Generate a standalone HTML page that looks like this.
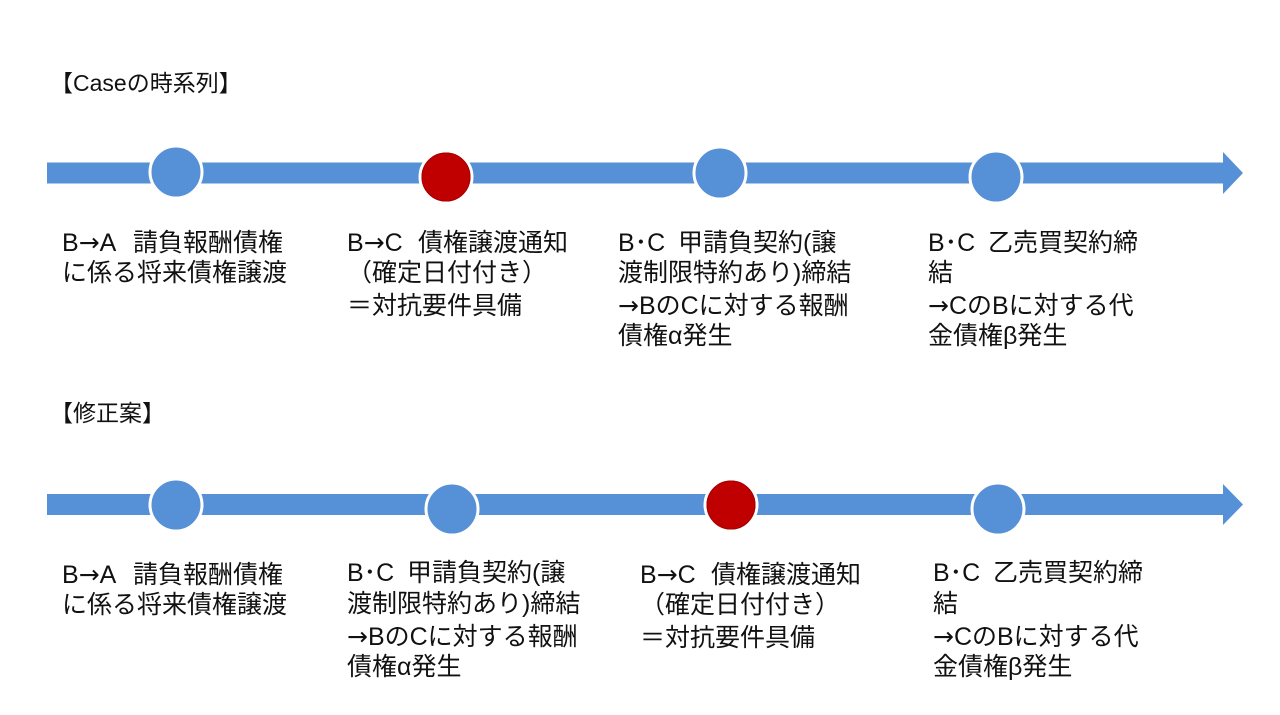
<!DOCTYPE html>
<html>
<head>
<meta charset="utf-8">
<style>
html,body{margin:0;padding:0;background:#fff;}
body{width:1280px;height:715px;overflow:hidden;}
svg{display:block;}
text{font-family:"Liberation Sans","Noto Sans CJK JP",sans-serif;fill:#111;}
.t{font-size:25px;}
.h{font-size:23px;}
.a{font-family:"DejaVu Sans",sans-serif;}
</style>
</head>
<body>
<svg width="1280" height="715" viewBox="0 0 1280 715" xmlns="http://www.w3.org/2000/svg">
  <rect width="1280" height="715" fill="#fff"/>

  <!-- Titles -->
  <text class="h" x="50" y="91">【Caseの時系列】</text>
  <text class="h" x="50" y="421">【修正案】</text>

  <!-- Top timeline -->
  <rect x="47" y="162.5" width="1177" height="21" fill="#5690D6"/>
  <polygon points="1223,152 1243,173 1223,194" fill="#5690D6"/>
  <circle cx="176" cy="172" r="26" fill="#5690D6" stroke="#fff" stroke-width="3"/>
  <circle cx="446" cy="177" r="26" fill="#C00000" stroke="#fff" stroke-width="3"/>
  <circle cx="446" cy="177" r="24" fill="none" stroke="#A40000" stroke-width="1"/>
  <circle cx="720" cy="173" r="26" fill="#5690D6" stroke="#fff" stroke-width="3"/>
  <circle cx="996" cy="177" r="26" fill="#5690D6" stroke="#fff" stroke-width="3"/>

  <!-- Bottom timeline -->
  <rect x="47" y="494" width="1177" height="21" fill="#5690D6"/>
  <polygon points="1223,484 1243,504.5 1223,525" fill="#5690D6"/>
  <circle cx="176" cy="505" r="26" fill="#5690D6" stroke="#fff" stroke-width="3"/>
  <circle cx="452" cy="509" r="26" fill="#5690D6" stroke="#fff" stroke-width="3"/>
  <circle cx="731" cy="505" r="26" fill="#C00000" stroke="#fff" stroke-width="3"/>
  <circle cx="731" cy="505" r="24" fill="none" stroke="#A40000" stroke-width="1"/>
  <circle cx="998" cy="509" r="26" fill="#5690D6" stroke="#fff" stroke-width="3"/>

  <!-- Top labels -->
  <text class="t" x="62" y="251">B<tspan class="a">→</tspan>A<tspan x="133">請負報酬債権</tspan></text>
  <text class="t" x="62" y="281">に係る将来債権譲渡</text>

  <text class="t" x="347" y="251">B<tspan class="a">→</tspan>C<tspan x="418">債権譲渡通知</tspan></text>
  <text class="t" x="347" y="281">（確定日付付き）</text>
  <text class="t" x="347" y="314">＝対抗要件具備</text>

  <text class="t" x="618" y="251">B･C<tspan x="678">甲請負契約(譲</tspan></text>
  <text class="t" x="618" y="281">渡制限特約あり)締結</text>
  <text class="t" x="618" y="314"><tspan class="a">→</tspan>BのCに対する報酬</text>
  <text class="t" x="618" y="344">債権α発生</text>

  <text class="t" x="928" y="251">B･C<tspan x="988">乙売買契約締</tspan></text>
  <text class="t" x="928" y="281">結</text>
  <text class="t" x="928" y="314"><tspan class="a">→</tspan>CのBに対する代</text>
  <text class="t" x="928" y="344">金債権β発生</text>

  <!-- Bottom labels -->
  <text class="t" x="62" y="583">B<tspan class="a">→</tspan>A<tspan x="133">請負報酬債権</tspan></text>
  <text class="t" x="62" y="613">に係る将来債権譲渡</text>

  <text class="t" x="347" y="581">B･C<tspan x="407">甲請負契約(譲</tspan></text>
  <text class="t" x="347" y="612">渡制限特約あり)締結</text>
  <text class="t" x="347" y="645"><tspan class="a">→</tspan>BのCに対する報酬</text>
  <text class="t" x="347" y="675">債権α発生</text>

  <text class="t" x="640" y="583">B<tspan class="a">→</tspan>C<tspan x="711">債権譲渡通知</tspan></text>
  <text class="t" x="640" y="613">（確定日付付き）</text>
  <text class="t" x="640" y="646">＝対抗要件具備</text>

  <text class="t" x="933" y="581">B･C<tspan x="993">乙売買契約締</tspan></text>
  <text class="t" x="933" y="612">結</text>
  <text class="t" x="933" y="645"><tspan class="a">→</tspan>CのBに対する代</text>
  <text class="t" x="933" y="675">金債権β発生</text>
</svg>
</body>
</html>
